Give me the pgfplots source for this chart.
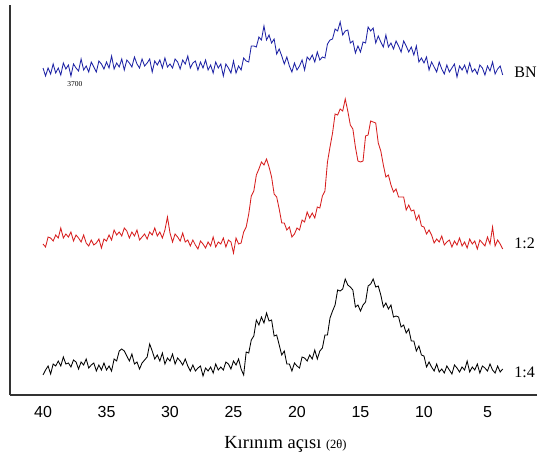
\documentclass[border=0pt]{standalone}
\usepackage{fontspec}
\setmainfont{Liberation Serif}
\newfontfamily\sansf{Liberation Sans}
\usepackage{pgfplots}
\usepackage{pgfplotstable}
\pgfplotsset{compat=1.18}
\definecolor{bnblue}{RGB}{30,35,165}
\definecolor{redc}{RGB}{215,30,30}

% BN
\pgfplotstableread{
x y
40.0 327
39.8 319
39.6 327
39.4 321
39.2 331
39.0 322
38.8 327
38.6 320
38.4 332
38.2 326
38.0 330
37.8 319
37.6 331
37.4 327
37.2 324
37.0 336
36.8 325
36.6 329
36.4 323
36.2 333
36.0 328
35.8 323
35.6 334
35.4 331
35.2 326
35.0 333
34.8 327
34.6 339
34.4 326
34.2 332
34.0 328
33.8 336
33.6 325
33.4 335
33.2 332
33.0 328
32.8 338
32.6 331
32.4 327
32.2 336
32.0 329
31.8 332
31.6 336
31.4 323
31.2 334
31.0 330
30.8 335
30.6 327
30.4 337
30.2 328
30.0 331
29.8 327
29.6 336
29.4 333
29.2 326
29.0 335
28.8 331
28.6 339
28.4 327
28.2 332
28.0 334
27.8 325
27.6 333
27.4 327
27.2 335
27.0 325
26.8 330
26.6 322
26.4 333
26.2 327
26.0 331
25.8 319
25.6 331
25.4 327
25.2 322
25.0 334
24.8 322
24.6 329
24.4 325
24.2 337
24.0 334
23.8 333
23.6 349
23.4 349
23.2 348
23.0 358
22.8 355
22.6 369
22.4 355
22.2 360
22.0 352
21.8 356
21.6 341
21.4 346
21.2 339
21.0 331
20.8 338
20.6 329
20.4 323
20.2 332
20.0 325
19.8 329
19.6 335
19.4 325
19.2 338
19.0 335
18.8 340
18.6 333
18.4 343
18.2 335
18.0 338
17.8 337
17.6 351
17.4 355
17.2 356
17.0 366
16.8 364
16.6 373
16.4 360
16.2 364
16.0 365
15.8 352
15.6 354
15.4 342
15.2 349
15.0 343
14.8 353
14.6 352
14.4 368
14.2 364
14.0 367
13.8 352
13.6 359
13.4 353
13.2 348
13.0 360
12.8 348
12.6 352
12.4 346
12.2 354
12.0 349
11.8 343
11.6 354
11.4 349
11.2 343
11.0 348
10.8 340
10.6 349
10.4 333
10.2 337
10.0 332
9.8 338
9.6 325
9.4 333
9.2 328
9.0 323
8.8 333
8.6 326
8.4 321
8.2 330
8.0 323
7.8 327
7.6 331
7.4 318
7.2 329
7.0 325
6.8 330
6.6 322
6.4 332
6.2 323
6.0 326
5.8 321
5.6 330
5.4 327
5.2 320
5.0 329
4.8 324
4.6 333
4.4 321
4.2 326
4.0 329
3.8 320
}\bndata

% 1:2
\pgfplotstableread{
x y
40.0 151
39.8 148
39.6 158
39.4 157
39.2 154
39.0 160
38.8 157
38.6 167
38.4 157
38.2 161
38.0 158
37.8 163
37.6 154
37.4 160
37.2 157
37.0 153
36.8 160
36.6 152
36.4 149
36.2 155
36.0 150
35.8 152
35.6 156
35.4 147
35.2 156
35.0 154
34.8 160
34.6 155
34.4 165
34.2 160
34.0 163
33.8 159
33.6 167
33.4 164
33.2 157
33.0 163
32.8 159
32.6 165
32.4 155
32.2 158
32.0 161
31.8 156
31.6 163
31.4 160
31.2 167
31.0 159
30.8 163
30.6 157
30.4 165
30.2 178
30.0 162
29.8 153
29.6 161
29.4 158
29.2 154
29.0 162
28.8 153
28.6 155
28.4 149
28.2 155
28.0 150
27.8 146
27.6 154
27.4 151
27.2 147
27.0 153
26.8 149
26.6 158
26.4 148
26.2 153
26.0 151
25.8 157
25.6 148
25.4 155
25.2 153
25.0 142
24.8 157
24.6 151
24.4 152
24.2 163
24.0 168
23.8 181
23.6 199
23.4 204
23.2 220
23.0 226
22.8 233
22.6 230
22.4 236
22.2 228
22.0 218
21.8 201
21.6 198
21.4 186
21.2 172
21.0 172
20.8 165
20.6 168
20.4 158
20.2 161
20.0 167
19.8 165
19.6 175
19.4 173
19.2 183
19.0 177
18.8 182
18.6 177
18.4 188
18.2 187
18.0 199
17.8 204
17.6 233
17.4 248
17.2 262
17.0 281
16.8 280
16.6 286
16.4 284
16.2 296
16.0 284
15.8 270
15.6 266
15.4 248
15.2 234
15.0 233
14.8 234
14.6 259
14.4 260
14.2 274
14.0 273
13.8 272
13.6 252
13.4 244
13.2 230
13.0 218
12.8 220
12.6 210
12.4 203
12.2 206
12.0 198
11.8 198
11.6 198
11.4 185
11.2 190
11.0 184
10.8 185
10.6 175
10.4 180
10.2 169
10.0 168
9.8 161
9.6 165
9.4 160
9.2 152
9.0 156
8.8 153
8.6 159
8.4 150
8.2 153
8.0 155
7.8 148
7.6 154
7.4 150
7.2 157
7.0 149
6.8 153
6.6 147
6.4 156
6.2 151
6.0 154
5.8 146
5.6 155
5.4 152
5.2 149
5.0 158
4.8 151
4.6 168
4.4 149
4.2 155
4.0 151
3.8 146
}\redata

% 1:4
\pgfplotstableread{
x y
40.0 20
39.8 25
39.6 29
39.4 21
39.2 31
39.0 29
38.8 34
38.6 29
38.4 38
38.2 31
38.0 32
37.8 28
37.6 35
37.4 33
37.2 26
37.0 33
36.8 30
36.6 36
36.4 27
36.2 30
36.0 32
35.8 24
35.6 30
35.4 25
35.2 32
35.0 25
34.8 29
34.6 24
34.4 36
34.2 34
34.0 44
33.8 46
33.6 44
33.4 39
33.2 34
33.0 41
32.8 31
32.6 33
32.4 26
32.2 32
32.0 35
31.8 38
31.6 51
31.4 44
31.2 36
31.0 40
30.8 34
30.6 42
30.4 31
30.2 37
30.0 34
29.8 41
29.6 31
29.4 37
29.2 34
29.0 30
28.8 36
28.6 29
28.4 24
28.2 30
28.0 24
27.8 27
27.6 29
27.4 19
27.2 27
27.0 24
26.8 28
26.6 22
26.4 31
26.2 25
26.0 28
25.8 25
25.6 33
25.4 31
25.2 26
25.0 34
24.8 30
24.6 36
24.4 26
24.2 20
24.0 43
23.8 42
23.6 55
23.4 59
23.2 75
23.0 70
22.8 78
22.6 72
22.4 82
22.2 74
22.0 75
21.8 59
21.6 60
21.4 50
21.2 40
21.0 44
20.8 31
20.6 31
20.4 24
20.2 32
20.0 29
19.8 27
19.6 38
19.4 37
19.2 34
19.0 40
18.8 36
18.6 45
18.4 36
18.2 44
18.0 47
17.8 60
17.6 60
17.4 77
17.2 84
17.0 90
16.8 105
16.6 104
16.4 106
16.2 116
16.0 110
15.8 108
15.6 105
15.4 88
15.2 90
15.0 84
14.8 90
14.6 93
14.4 109
14.2 111
14.0 116
13.8 108
13.6 109
13.4 100
13.2 88
13.0 92
12.8 86
12.6 90
12.4 78
12.2 79
12.0 78
11.8 68
11.6 70
11.4 62
11.2 66
11.0 54
10.8 54
10.6 44
10.4 49
10.2 40
10.0 39
9.8 28
9.6 33
9.4 28
9.2 24
9.0 31
8.8 23
8.6 26
8.4 22
8.2 29
8.0 25
7.8 21
7.6 30
7.4 27
7.2 23
7.0 28
6.8 25
6.6 34
6.4 23
6.2 28
6.0 25
5.8 31
5.6 22
5.4 29
5.2 27
5.0 24
4.8 31
4.6 25
4.4 22
4.2 29
4.0 23
3.8 26
}\blkdata

\begin{document}
\begin{tikzpicture}
\begin{axis}[scale only axis, width=527pt, height=390pt,
  xmin=1.1, xmax=42.6, ymin=0, ymax=390, x dir=reverse,
  axis x line=bottom, axis y line=left,
  axis line style={-, line width=1.1pt, black!80},
  xtick={5,10,...,40}, ytick=\empty, major tick length=0pt,
  /pgf/number format/assume math mode=true,
  x tick label style={font=\sansf\fontsize{16}{16}\selectfont, yshift=-8pt},
  xlabel={\fontsize{18.5}{18.5}\selectfont Kırınım açısı {\fontsize{12.5}{12.5}\selectfont(2θ)}},
  xlabel style={xshift=12pt, yshift=-12pt},
  clip=false]
\addplot[bnblue, line width=0.85pt] table[x=x, y=y] {\bndata};
\addplot[redc, line width=0.85pt] table[x=x, y=y] {\redata};
\addplot[black, line width=0.85pt] table[x=x, y=y] {\blkdata};
\node[anchor=west, inner sep=0pt, font=\fontsize{16}{16}\selectfont] at (axis cs:2.9,323) {BN};
\node[anchor=west, inner sep=0pt, font=\fontsize{16}{16}\selectfont] at (axis cs:2.9,152) {1:2};
\node[anchor=west, inner sep=0pt, font=\fontsize{16}{16}\selectfont] at (axis cs:2.9,23) {1:4};
\node[font=\fontsize{7.5}{8}\selectfont] at (axis cs:37.5,311) {3700};
\coordinate (sw) at (rel axis cs:0,0);
\coordinate (ne) at (rel axis cs:1,1);
\end{axis}
\path (sw) ++(-10pt,-61pt) rectangle (ne) ++(8pt,5pt);
\end{tikzpicture}
\end{document}
